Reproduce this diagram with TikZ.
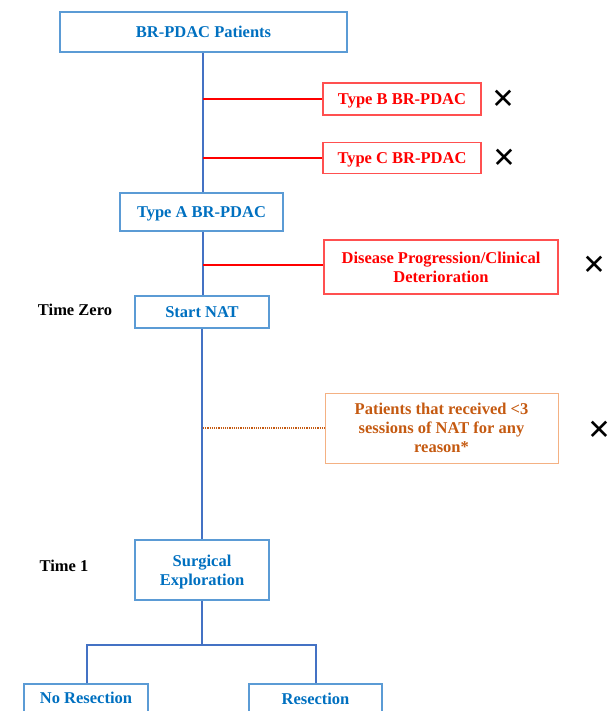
\documentclass[tikz,border=0pt]{standalone}
\usepackage{fontspec}
\setmainfont{Liberation Serif}
\newfontfamily\dejavu{DejaVu Sans}
\definecolor{txtblue}{HTML}{0070C0}
\definecolor{boxblue}{HTML}{5B9BD5}
\definecolor{lineblue}{HTML}{4472C4}
\definecolor{exred}{HTML}{FF0000}
\definecolor{exredb}{HTML}{FF5050}
\definecolor{orangetxt}{HTML}{C55A11}
\definecolor{orangeb}{HTML}{F4B183}
\begin{document}
\begin{tikzpicture}[x=1pt,y=-1pt,
  every node/.style={font=\fontsize{16.5}{19}\selectfont\bfseries, inner sep=0pt, align=center, text depth=0pt},
  bluebox/.style={draw=boxblue, line width=1.6pt, text=txtblue, minimum height=#1},
  bluebox/.default=34pt,
  redbox/.style={draw=exredb, line width=1.2pt, text=exred},
  orangebox/.style={draw=orangeb, line width=1pt, text=orangetxt},
  blueline/.style={draw=lineblue, line width=1.6pt},
  redline/.style={draw=exred, line width=1.2pt},
  orangeline/.style={draw=orangetxt, line width=1.3pt, dash pattern=on 1.2pt off 1pt},
  xmark/.style={font=\dejavu\fontsize{28}{28}\selectfont, text=black},
  timelbl/.style={text=black}
]
\useasboundingbox (0,0) rectangle (611,711);
% boxes
\node[bluebox=40pt, minimum width=287pt] (pat) at (203.5,32) {BR-PDAC Patients};
\node[redbox, minimum width=158pt, minimum height=32pt] (tb) at (402,99) {Type B BR-PDAC};
\node[redbox, minimum width=158pt, minimum height=31pt] (tc) at (402,158) {Type C BR-PDAC};
\node[bluebox=38pt, minimum width=163pt] (ta) at (201.5,212) {Type A BR-PDAC};
\node[redbox, minimum width=234pt, minimum height=54pt] (dp) at (441,267) {Disease Progression/Clinical\\Deterioration};
\node[bluebox=32pt, minimum width=134pt] (nat) at (202,312) {Start NAT};
\node[orangebox, minimum width=233pt, minimum height=70pt] (lt3) at (441.5,428) {Patients that received <3\\sessions of NAT for any\\reason*};
\node[bluebox=60pt, minimum width=134pt] (surg) at (202,570) {Surgical\\Exploration};
\node[bluebox=40pt, minimum width=124pt, anchor=north] (nores) at (86,683) {};
\node[bluebox=40pt, minimum width=133pt, anchor=north] (res) at (315.5,683) {};
\node[text=txtblue] at (86,698) (noreslbl) {No Resection};
\node[text=txtblue] at (315.5,699) (reslbl) {Resection};
% time labels
\node[timelbl] (t0) at (75,310) {Time Zero};
\node[timelbl] (t1) at (64,566) {Time 1};
% x marks
\node[xmark] (x1) at (503,99) {✕};
\node[xmark] (x2) at (504,158) {✕};
\node[xmark] (x3) at (594,265) {✕};
\node[xmark] (x4) at (599,430) {✕};
% coordinates on trunk
\coordinate (jb) at (203,99);
\coordinate (jc) at (203,158);
\coordinate (jd) at (203,265);
\coordinate (je) at (203,428);
\coordinate (js) at (202,645);
\coordinate (jl) at (87,645);
\coordinate (jr) at (316,645);
% connectors
\draw[blueline] (pat.south -| 203,0) -- (ta.north -| 203,0);
\draw[blueline] (ta.south -| 203,0) -- (nat.north -| 203,0);
\draw[blueline] (nat.south) -- (surg.north);
\draw[blueline] (surg.south) -- (js);
\draw[blueline] (jl |- nores.north) -- (jl) -- (jr) -- (jr |- res.north);
\draw[redline] (jb) -- (tb.west |- jb);
\draw[redline] (jc) -- (tc.west |- jc);
\draw[redline] (jd) -- (dp.west |- jd);
\draw[orangeline] (je) -- (lt3.west |- je);
\end{tikzpicture}
\end{document}
